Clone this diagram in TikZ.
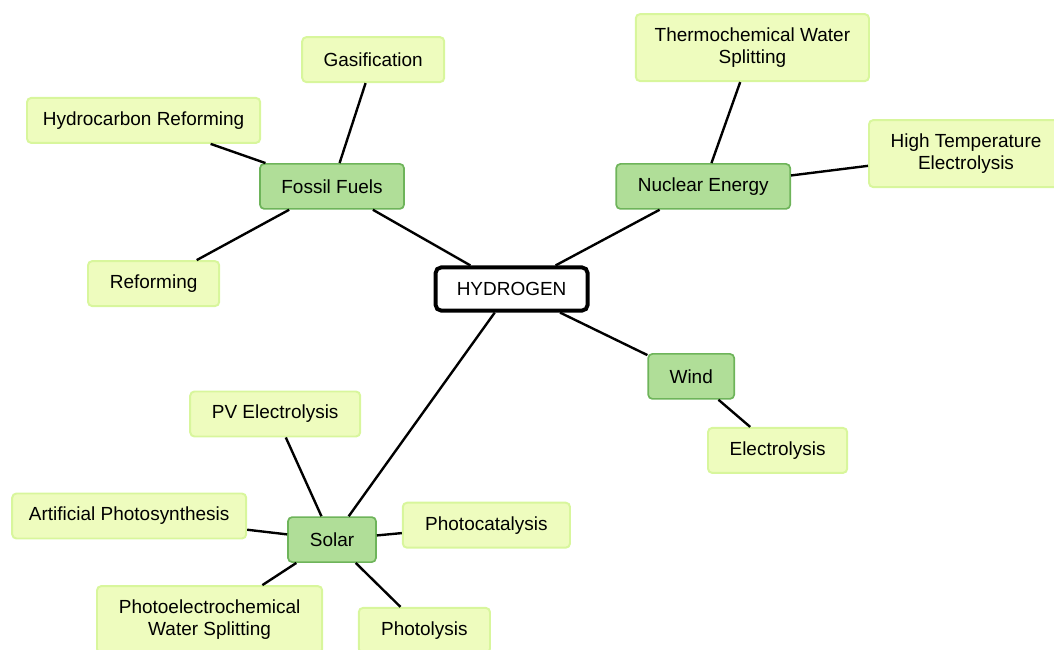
\documentclass[tikz,border=0pt]{standalone}
\usepackage{fontspec}
\setmainfont{Liberation Sans}
\usepackage{tikz}
\usetikzlibrary{positioning}

\definecolor{leaffill}{RGB}{238,252,190}
\definecolor{leafline}{RGB}{216,246,156}
\definecolor{hubfill}{RGB}{176,222,152}
\definecolor{hubline}{RGB}{110,180,90}

\begin{document}
\begin{tikzpicture}[
  font=\fontsize{13.5}{16}\selectfont,
  leaf/.style={draw=leafline, line width=1.4pt, fill=leaffill, rounded corners=3pt, align=center, minimum height=1.125cm, inner sep=2pt},
  hub/.style={draw=hubline, line width=1.2pt, fill=hubfill, rounded corners=3pt, align=center, minimum height=1.125cm, inner sep=2pt},
  core/.style={draw=black, line width=2.8pt, fill=white, rounded corners=4pt, align=center, minimum width=3.8cm, minimum height=1.08cm},
  link/.style={line width=1.7pt, black}
]
\useasboundingbox (0,0) rectangle (26.35,-16.25);

\node[core] (hydrogen) at (12.79,-7.225) {HYDROGEN};

% fossil fuels branch
\node[hub, minimum width=3.6cm] (fossil) at (8.3,-4.66) {Fossil Fuels};
\node[leaf, minimum width=3.55cm] (gasif) at (9.33,-1.49) {Gasification};
\node[leaf, minimum width=5.83cm] (hcreform) at (3.59,-3.01) {Hydrocarbon Reforming};
\node[leaf, minimum width=3.28cm] (reform) at (3.84,-7.09) {Reforming};

% nuclear branch
\node[hub, minimum width=4.35cm] (nuclear) at (17.58,-4.66) {Nuclear Energy};
\node[leaf, minimum width=5.83cm, minimum height=1.675cm] (thermo) at (18.81,-1.19) {Thermochemical Water\\Splitting};
\node[leaf, minimum width=4.85cm, minimum height=1.675cm] (hightemp) at (24.15,-3.84) {High Temperature\\Electrolysis};

% wind branch
\node[hub, minimum width=2.15cm] (wind) at (17.28,-9.41) {Wind};
\node[leaf, minimum width=3.48cm] (electro) at (19.44,-11.26) {Electrolysis};

% solar branch
\node[hub, minimum width=2.2cm] (solar) at (8.3,-13.49) {Solar};
\node[leaf, minimum width=4.25cm] (pv) at (6.88,-10.35) {PV Electrolysis};
\node[leaf, minimum width=5.85cm] (artif) at (3.23,-12.9) {Artificial Photosynthesis};
\node[leaf, minimum width=4.18cm] (photocat) at (12.16,-13.13) {Photocatalysis};
\node[leaf, minimum width=5.63cm, minimum height=1.675cm] (pec) at (5.24,-15.49) {Photoelectrochemical\\Water Splitting};
\node[leaf, minimum width=3.28cm] (photolysis) at (10.61,-15.76) {Photolysis};

\draw[link] (fossil) -- (hydrogen);
\draw[link] (nuclear) -- (hydrogen);
\draw[link] (wind) -- (hydrogen);
\draw[link] (solar) -- (hydrogen);
\draw[link] (gasif) -- (fossil);
\draw[link] (hcreform) -- (fossil);
\draw[link] (reform) -- (fossil);
\draw[link] (thermo) -- (nuclear);
\draw[link] (hightemp) -- (nuclear);
\draw[link] (electro) -- (wind);
\draw[link] (pv) -- (solar);
\draw[link] (artif) -- (solar);
\draw[link] (photocat) -- (solar);
\draw[link] (pec) -- (solar);
\draw[link] (photolysis) -- (solar);
\end{tikzpicture}
\end{document}
